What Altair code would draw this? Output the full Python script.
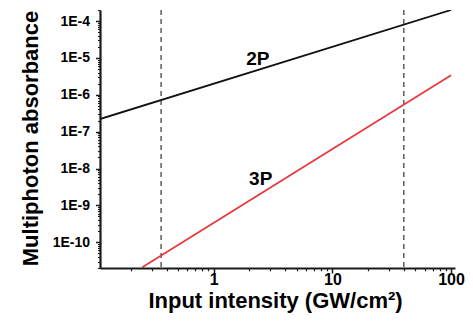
import altair as alt
import pandas as pd

# Data
x_2p = [0.11, 100]
y_2p = [2.2e-7, 2.0e-4]
x_3p = [0.25, 100]
y_3p = [2.1e-11, 3.4e-6]
dash_x = [0.36, 40]
label_text = ["2P", "3P"]
label_x = [2.35, 2.49]
label_y = [9.3e-6, 5.3e-9]

x_domain = [0.11, 108]
y_domain = [2e-11, 2e-4]

x_major = [1, 10, 100]
y_major = [1e-10, 1e-9, 1e-8, 1e-7, 1e-6, 1e-5, 1e-4]
x_minor = [k * 10.0 ** e for e in range(-1, 3) for k in range(2, 10)
           if x_domain[0] <= k * 10.0 ** e <= x_domain[1]]
y_minor = [k * 10.0 ** e for e in range(-11, -3) for k in range(2, 10)
           if y_domain[0] <= k * 10.0 ** e <= y_domain[1] * 1.0001]

lines = pd.DataFrame({
    "x": x_2p + x_3p,
    "y": y_2p + y_3p,
    "s": ["2P"] * len(x_2p) + ["3P"] * len(x_3p),
})
dashes = pd.DataFrame({"x": dash_x})
labels = pd.DataFrame({"x": label_x, "y": label_y, "t": label_text})

FONT = "Liberation Sans"
AX = dict(domainColor="#1a1a1a", domainWidth=2.2, tickColor="#1a1a1a",
          tickWidth=1.5, grid=False, zindex=2)

x_scale = alt.Scale(type="log", domain=x_domain, nice=False)
y_scale = alt.Scale(type="log", domain=y_domain, nice=False)

x_axis = alt.Axis(
    orient="bottom",
    title="Input intensity (GW/cm²)",
    values=x_major,
    labelExpr="format(datum.value, '~g')",
    tickSize=5,
    labelPadding=11,
    labelBaseline="alphabetic",
    labelFontSize=16,
    labelOverlap=False,
    labelFlush=False,
    titleBaseline="alphabetic",
    titleY=39,
    titleX=175,
    titleFontSize=22,
    **AX,
)
y_axis = alt.Axis(
    orient="left",
    title="Multiphoton absorbance",
    values=y_major,
    labelExpr="'1E' + round(log(datum.value)/LN10)",
    tickSize=4.5,
    labelPadding=6,
    labelFontSize=14,
    labelOverlap=False,
    labelFlush=False,
    titleBaseline="alphabetic",
    titleAngle=270,
    titleX=-63,
    titleY=128,
    titleFontSize=22,
    **AX,
)
x_axis_minor = alt.Axis(orient="bottom", values=x_minor, labels=False, title=None,
                        domain=False, tickSize=2.8, tickColor="#1a1a1a", tickWidth=1.2, grid=False, zindex=2)
y_axis_minor = alt.Axis(orient="left", values=y_minor, labels=False, title=None,
                        domain=False, tickSize=2.5, tickColor="#1a1a1a", tickWidth=1.1, grid=False, zindex=2)

line_chart = alt.Chart(lines).mark_line(strokeWidth=1.8, clip=True).encode(
    x=alt.X("x:Q", scale=x_scale, axis=x_axis),
    y=alt.Y("y:Q", scale=y_scale, axis=y_axis),
    color=alt.Color("s:N", scale=alt.Scale(domain=["2P", "3P"], range=["#111111", "#e53a40"]), legend=None),
)

minor_chart = alt.Chart(lines).mark_point(opacity=0).encode(
    x=alt.X("x:Q", scale=x_scale, axis=x_axis_minor),
    y=alt.Y("y:Q", scale=y_scale, axis=y_axis_minor),
)

rule_chart = alt.Chart(dashes).mark_rule(strokeDash=[5, 4], color="#444444", strokeWidth=1.3).encode(
    x=alt.X("x:Q", scale=x_scale, axis=None),
)

text_chart = alt.Chart(labels).mark_text(
    font=FONT, fontSize=19, fontWeight="bold", color="#000000", baseline="middle"
).encode(
    x=alt.X("x:Q", scale=x_scale, axis=None),
    y=alt.Y("y:Q", scale=y_scale, axis=None),
    text="t:N",
)

chart = alt.layer(rule_chart, line_chart, minor_chart, text_chart).resolve_axis(
    x="independent", y="independent"
).properties(
    width=355,
    height=258,
    autosize="none",
    padding={"left": 92, "top": 2, "right": 10, "bottom": 45},
).configure_view(stroke=None).configure_axis(
    labelColor="#000000",
    titleColor="#000000",
    labelFont=FONT,
    titleFont=FONT,
    labelFontWeight="bold",
    titleFontWeight="bold",
)

chart.save("out.html", embed_options={"renderer": "svg", "actions": False})
